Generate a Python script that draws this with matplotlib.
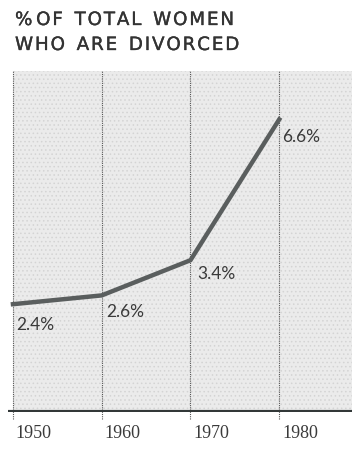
import matplotlib.pyplot as plt
import matplotlib as mpl
import matplotlib.patheffects as pe

years = [1950, 1960, 1970, 1980]
divorced_pct = [2.4, 2.6, 3.4, 6.6]
labels = ["2.4%", "2.6%", "3.4%", "6.6%"]
label_offsets = [(2, -14), (3, -11), (5, -9), (2, -12)]

plt.rcParams['font.family'] = ['Lato', 'DejaVu Sans']
mpl.rcParams['hatch.linewidth'] = 0.6

fig = plt.figure(figsize=(3.52, 4.56), dpi=100)
ax = fig.add_axes([8 / 352, 43 / 456, 344 / 352, 341 / 456])
ax.set_xlim(1949.44, 1988.2)
ax.set_ylim(-0.05, 7.7)
ax.axis('off')

# stippled panel behind the line
ax.axvspan(1950, 1990, facecolor='#ebebeb', edgecolor='#d4d4d4',
           hatch='....', linewidth=0, zorder=0)

ax.vlines(years, -0.2, 7.7, colors='#555555', linestyles=(0, (1, 1)),
          linewidth=0.8, clip_on=False, zorder=1)
ax.axhline(-0.05, color='#323838', linewidth=3, zorder=3)

ax.plot(years, divorced_pct, color='#5a5e5e', linewidth=3.2,
        solid_joinstyle='miter', zorder=2)

for x, y, s, (dx, dy) in zip(years, divorced_pct, labels, label_offsets):
    ax.annotate(s, (x, y), xytext=(dx, dy), textcoords='offset points',
                ha='left', va='center', fontsize=12.5, color='#3a3a3a')

for x in years:
    ax.annotate(str(x), (x, 0), xytext=(2, -16), textcoords='offset points',
                ha='left', va='center', fontsize=13, color='#3a3a3a',
                family=['Liberation Serif'], annotation_clip=False)

# spaced caps heading, thickened a little with a stroke
heavier = [pe.withStroke(linewidth=0.25, foreground='#333333')]
fig.text(15 / 352, 1 - 21 / 456, "%\u2009O\u200aF  T\u200aO\u200aT\u200aA\u200aL  W\u200aO\u200aM\u200aE\u200aN",
         fontsize=13.2, color='#333333', va='center', ha='left',
         family=['DejaVu Sans'], path_effects=heavier)
fig.text(15 / 352, 1 - 46 / 456, "W\u200aH\u200aO  A\u200aR\u200aE  D\u200aI\u200aV\u200aO\u200aR\u200aC\u200aE\u200aD",
         fontsize=13.2, color='#333333', va='center', ha='left',
         family=['DejaVu Sans'], path_effects=heavier)

fig.savefig('out.png', dpi=100)
